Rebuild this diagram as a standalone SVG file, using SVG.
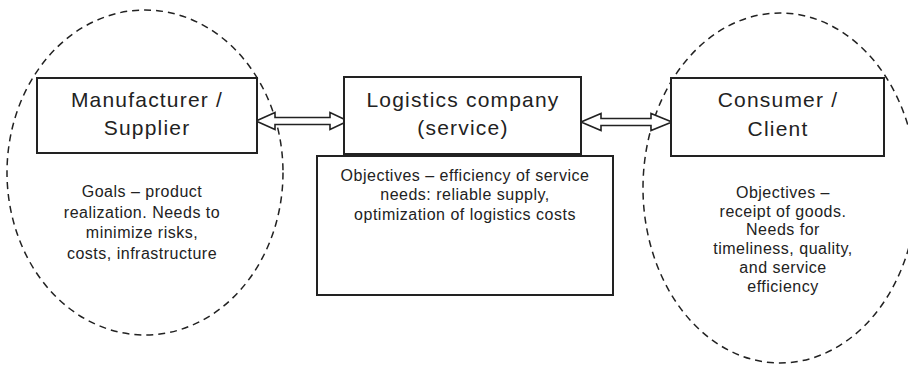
<svg xmlns="http://www.w3.org/2000/svg" width="908" height="366" viewBox="0 0 908 366">
  <style>
    .zone { fill: none; stroke: #222; stroke-width: 1.5; stroke-dasharray: 7 5; }
    .box { fill: #fff; stroke: #222; stroke-width: 2; }
    .link { fill: #fff; stroke: #222; stroke-width: 1.6; stroke-linejoin: miter; }
    .title { font-family: "Liberation Sans", Arial, sans-serif; font-size: 21px; letter-spacing: 1.2px; fill: #222; text-anchor: middle; }
    .body { font-family: "Liberation Sans", Arial, sans-serif; font-size: 16px; letter-spacing: 0.5px; fill: #222; text-anchor: middle; }
  </style>
  <rect width="908" height="366" fill="#fff"/>

  <!-- dashed areas around the two end parties -->
  <ellipse class="zone" cx="145" cy="172.5" rx="138" ry="162.5"/>
  <ellipse class="zone" cx="780" cy="188" rx="137" ry="175"/>

  <!-- two-way links between parties -->
  <g id="connectors">
    <polygon class="link" points="256,121 275,112.5 275,117.5 330,117.5 330,112.5 348,121 330,129.5 330,124.5 275,124.5 275,129.5"/>
    <polygon class="link" points="581,122 601,113.5 601,118.5 651,118.5 651,113.5 672,122 651,130.5 651,125.5 601,125.5 601,130.5"/>
  </g>

  <g id="manufacturer">
    <rect class="box" x="37" y="78" width="220" height="75"/>
    <text class="title" x="147" y="107">Manufacturer /</text>
    <text class="title" x="147" y="135">Supplier</text>
    <text class="body" x="142" y="197">Goals – product</text>
    <text class="body" x="142" y="217.5">realization. Needs to</text>
    <text class="body" x="142" y="238">minimize risks,</text>
    <text class="body" x="142" y="258.5">costs, infrastructure</text>
  </g>

  <g id="logistics">
    <rect class="box" x="344" y="77" width="237" height="77"/>
    <text class="title" x="463" y="107">Logistics company</text>
    <text class="title" x="463" y="135">(service)</text>
  </g>

  <g id="logistics-goals">
    <rect class="box" x="317" y="156" width="296" height="139"/>
    <text class="body" x="465" y="180.5">Objectives – efficiency of service</text>
    <text class="body" x="465" y="200">needs: reliable supply,</text>
    <text class="body" x="465" y="219.5">optimization of logistics costs</text>
  </g>

  <g id="consumer">
    <rect class="box" x="671" y="78" width="213" height="78"/>
    <text class="title" x="778" y="107">Consumer /</text>
    <text class="title" x="778" y="136">Client</text>
    <text class="body" x="783" y="198">Objectives –</text>
    <text class="body" x="783" y="216.7">receipt of goods.</text>
    <text class="body" x="783" y="235.4">Needs for</text>
    <text class="body" x="783" y="254.1">timeliness, quality,</text>
    <text class="body" x="783" y="272.8">and service</text>
    <text class="body" x="783" y="291.5">efficiency</text>
  </g>
</svg>
